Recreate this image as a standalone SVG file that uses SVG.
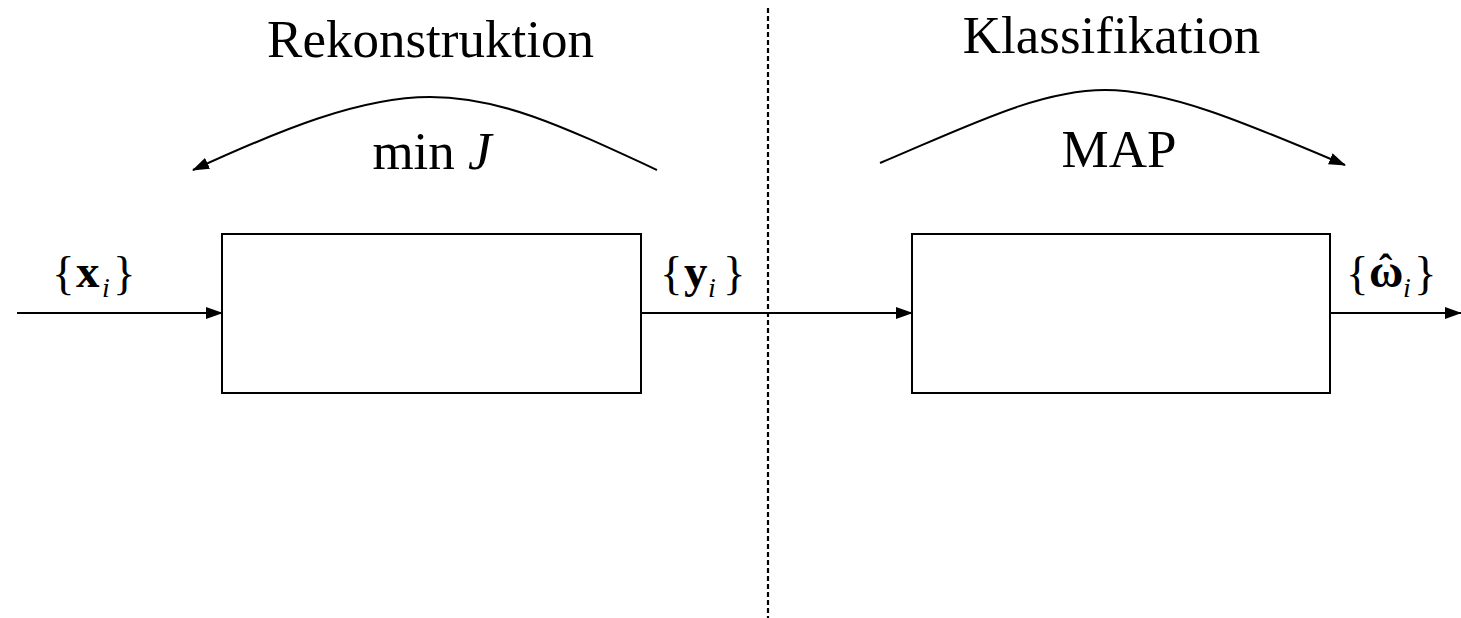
<svg xmlns="http://www.w3.org/2000/svg" width="1461" height="618" viewBox="0 0 1461 618">
<defs>
<marker id="ah2" markerWidth="17" markerHeight="12" refX="16" refY="6" orient="auto" markerUnits="userSpaceOnUse"><path d="M0,0 L17,6 L0,12 Z" fill="#000"/></marker>
<style>
.t{font-family:"Liberation Serif","Times New Roman",serif;fill:#000}
.big{font-size:53px}
.lb{font-size:47px}
.sub{font-size:28px;font-style:italic;font-weight:normal}
.bf{font-weight:bold}
.box{fill:#fff;stroke:#000;stroke-width:2}
.ln{fill:none;stroke:#000;stroke-width:2}
</style>
</defs>
<rect width="1461" height="618" fill="#fff"/>
<g id="divider"><line x1="768" y1="8" x2="768" y2="618" stroke="#000" stroke-width="2.2" stroke-dasharray="5,3"/></g>
<g id="connectors">
<line class="ln" x1="17" y1="313" x2="222" y2="313" marker-end="url(#ah2)"/>
<line class="ln" x1="641" y1="313" x2="912" y2="313" marker-end="url(#ah2)"/>
<line class="ln" x1="1330" y1="313" x2="1461" y2="313" marker-end="url(#ah2)"/>
<path class="ln" d="M657,170 C560,125 500,97 430,97 C360,97 280,130 193,170" marker-end="url(#ah2)"/>
<path class="ln" d="M880,163 C970,125 1040,90 1105,90 C1170,90 1250,125 1345,165" marker-end="url(#ah2)"/>
</g>
<g id="node-rekonstruktion"><rect class="box" x="222" y="234" width="419" height="159"/></g>
<g id="node-klassifikation"><rect class="box" x="912" y="234" width="418" height="159"/></g>
<g id="labels">
<text class="t big" x="430.5" y="57" text-anchor="middle">Rekonstruktion</text>
<text class="t big" x="1111.5" y="53" text-anchor="middle">Klassifikation</text>
<text class="t big" x="432" y="169" text-anchor="middle">min <tspan font-style="italic">J</tspan></text>
<text class="t big" x="1119" y="167" text-anchor="middle">MAP</text>
<text id="label-x" class="t lb" x="52" y="289">{<tspan class="bf" x="76" y="287">x</tspan><tspan class="sub" x="102" y="297">i</tspan><tspan x="113" y="289">}</tspan></text>
<text id="label-y" class="t lb" x="660" y="289">{<tspan class="bf" x="684" y="287">y</tspan><tspan class="sub" x="708" y="297">i</tspan><tspan x="723" y="289">}</tspan></text>
<text id="label-w" class="t lb" x="1346" y="289">{<tspan class="bf" x="1369" y="287">ω</tspan><tspan class="bf" x="1379" y="282" font-size="40">ˆ</tspan><tspan class="sub" x="1403" y="297">i</tspan><tspan x="1414" y="289">}</tspan></text>
</g>
</svg>
